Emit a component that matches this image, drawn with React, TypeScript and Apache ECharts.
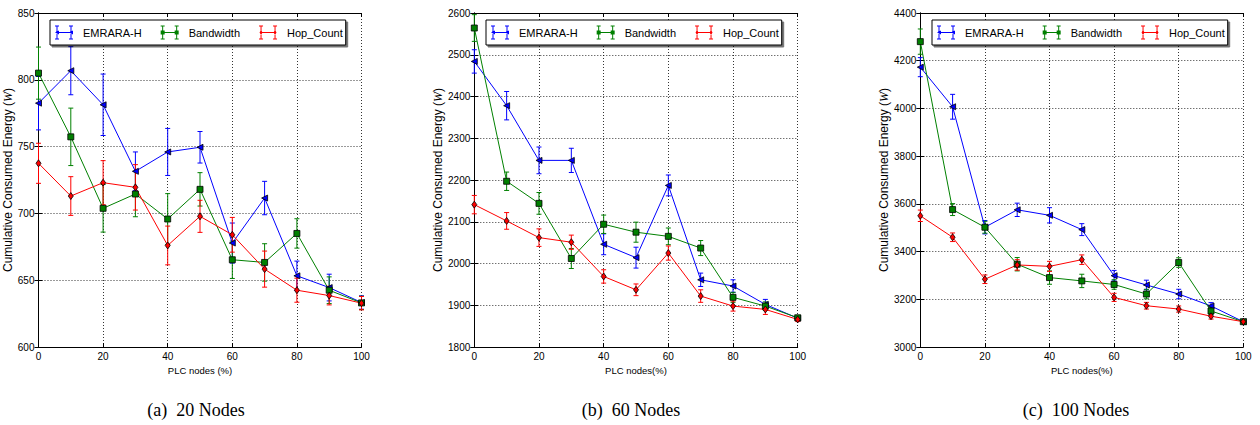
import { useEffect, useRef } from 'react';
import * as echarts from 'echarts';

const X = [0, 10, 20, 30, 40, 50, 60, 70, 80, 90, 100];
const NAMES = ['EMRARA-H', 'Bandwidth', 'Hop_Count'];

// (a) 20 Nodes
const A_EMRARA = [782.5, 806.8, 781.3, 731.5, 746, 749.5, 677.8, 711.5, 653.3, 644.5, 633.3];
const A_EMRARA_ERR = [20, 18, 23, 14.5, 17.6, 11.8, 15, 12.5, 11, 10, 5];
const A_BW = [805, 757.3, 703.8, 714.5, 695.8, 718, 665.3, 663.3, 685, 642.5, 633];
const A_BW_ERR = [19.5, 21.5, 17.8, 17, 19, 12.5, 14, 14, 11, 10, 5];
const A_HOP = [737.5, 713, 723, 719.5, 676, 697.8, 684, 658.3, 642.5, 638.5, 632.8];
const A_HOP_ERR = [15, 14.5, 16.5, 17, 14.5, 12, 13, 13.5, 9, 7, 5];

// (b) 60 Nodes
const B_EMRARA = [2484, 2378, 2247, 2247, 2046, 2014, 2187, 1961, 1946, 1902, 1869];
const B_EMRARA_ERR = [28, 34, 32, 29, 25, 25, 25, 16, 15, 12, 5];
const B_BW = [2564, 2197, 2144, 2012, 2094, 2075, 2065, 2037, 1919, 1898, 1870];
const B_BW_ERR = [32, 22, 26, 24, 22, 24, 20, 18, 12, 10, 5];
const B_HOP = [2141, 2102, 2062, 2051, 1969, 1937, 2025, 1922, 1898, 1890, 1866];
const B_HOP_ERR = [22, 20, 21, 17, 16, 14, 17, 15, 12, 12, 5];

// (c) 100 Nodes
const C_EMRARA = [4173, 4007, 3502, 3575, 3552, 3492, 3299, 3260, 3222, 3172, 3106];
const C_EMRARA_ERR = [40, 52, 28, 28, 32, 25, 22, 20, 20, 14, 8];
const C_BW = [4280, 3576, 3502, 3347, 3291, 3277, 3262, 3222, 3354, 3151, 3106];
const C_BW_ERR = [53, 25, 25, 28, 28, 28, 20, 20, 20, 15, 8];
const C_HOP = [3550, 3460, 3284, 3344, 3338, 3366, 3208, 3173, 3159, 3129, 3106];
const C_HOP_ERR = [24, 18, 18, 22, 21, 20, 17, 14, 13, 12, 8];

const Y_TICKS_A = { min: 600, max: 850, interval: 50 };
const Y_TICKS_B = { min: 1800, max: 2600, interval: 100 };
const Y_TICKS_C = { min: 3000, max: 4400, interval: 200 };

const CAPTIONS = ['(a)  20 Nodes', '(b)  60 Nodes', '(c)  100 Nodes'];
const X_NAMES = ['PLC nodes (%)', 'PLC nodes(%)', 'PLC nodes(%)'];
const Y_NAME = 'Cumulative Consumed Energy ({i|W})';

const COLORS = ['#0000ff', '#008000', '#ff0000'];
const FONT = '"Liberation Sans", Arial, sans-serif';

const SYMBOLS = ['path://M0,5L10,0L10,10Z', 'rect', 'diamond'];
const SYMBOL_SIZES: any[] = [6, 6, [5, 7]];

const IBEAMS =
  'M0,0H4V1H2.5V13H4V14H0V13H1.5V1H0Z M14,0H18V1H16.5V13H18V14H14V13H15.5V1H14Z M2,6.5H16V7.5H2Z ';
const LEGEND_ICONS = [
  'path://' + IBEAMS + 'M0,7L4,5V9Z M14,7L18,5V9Z',
  'path://' + IBEAMS + 'M0,5H4V9H0Z M14,5H18V9H14Z',
  'path://' + IBEAMS + 'M2,4.5L3.5,7L2,9.5L0.5,7Z M16,4.5L17.5,7L16,9.5L14.5,7Z',
];

const LAYOUT = [
  { left: 38.5, width: 323, legendLeft: 50, capX: 196, yGap: 21 },
  { left: 474.3, width: 323.4, legendLeft: 486, capX: 631, yGap: 26 },
  { left: 920.3, width: 323, legendLeft: 932, capX: 1076, yGap: 27 },
];

function buildOption() {
  const panelsData = [
    { vals: [A_EMRARA, A_BW, A_HOP], errs: [A_EMRARA_ERR, A_BW_ERR, A_HOP_ERR], y: Y_TICKS_A },
    { vals: [B_EMRARA, B_BW, B_HOP], errs: [B_EMRARA_ERR, B_BW_ERR, B_HOP_ERR], y: Y_TICKS_B },
    { vals: [C_EMRARA, C_BW, C_HOP], errs: [C_EMRARA_ERR, C_BW_ERR, C_HOP_ERR], y: Y_TICKS_C },
  ];
  const grid: any[] = [];
  const xAxis: any[] = [];
  const yAxis: any[] = [];
  const series: any[] = [];
  const legend: any[] = [];
  const graphic: any[] = [];

  const axisLine = { show: true, lineStyle: { color: '#000', width: 1 } };
  const axisTick = { show: true, inside: true, length: 4, lineStyle: { color: '#000', width: 1 } };
  const splitLine = { show: true, lineStyle: { color: '#000', width: 0.8, type: [1, 2] } };
  const axisLabel = {
    fontSize: 10, fontFamily: FONT, color: '#000', margin: 4,
    formatter: (v: number) => String(v),
  };

  panelsData.forEach((p, i) => {
    const L = LAYOUT[i];
    grid.push({ left: L.left, top: 13, width: L.width, height: 334, containLabel: false });
    xAxis.push({
      type: 'value', gridIndex: i, min: 0, max: 100, interval: 20, position: 'bottom',
      name: X_NAMES[i], nameLocation: 'middle', nameGap: 18,
      nameTextStyle: { fontSize: 9.5, fontFamily: FONT, color: '#000' },
      axisLine, axisTick, axisLabel, splitLine,
    });
    xAxis.push({
      type: 'value', gridIndex: i, min: 0, max: 100, interval: 20, position: 'top',
      axisLine, axisTick, axisLabel: { show: false }, splitLine: { show: false },
    });
    yAxis.push({
      type: 'value', gridIndex: i, min: p.y.min, max: p.y.max, interval: p.y.interval, position: 'left',
      name: Y_NAME, nameLocation: 'middle', nameGap: L.yGap, nameRotate: 90,
      nameTextStyle: {
        fontSize: 12, fontFamily: FONT, color: '#000',
        rich: { i: { fontSize: 12, fontStyle: 'italic', fontFamily: '"Liberation Serif", serif', color: '#000' } },
      },
      axisLine, axisTick, axisLabel, splitLine,
    });
    yAxis.push({
      type: 'value', gridIndex: i, min: p.y.min, max: p.y.max, interval: p.y.interval, position: 'right',
      axisLine, axisTick, axisLabel: { show: false }, splitLine: { show: false },
    });

    p.vals.forEach((vals, s) => {
      const color = COLORS[s];
      const errs = p.errs[s];
      series.push({
        type: 'custom',
        name: NAMES[s] + ' error',
        xAxisIndex: 2 * i, yAxisIndex: 2 * i,
        encode: { x: 0, y: [1, 2] },
        data: X.map((x, k) => [x, vals[k] - errs[k], vals[k] + errs[k]]),
        z: 2,
        renderItem: (params: any, api: any) => {
          const x = api.value(0);
          const top = api.coord([x, api.value(2)]);
          const bot = api.coord([x, api.value(1)]);
          const hw = 2.5;
          const st = { stroke: color, lineWidth: 1 };
          return {
            type: 'group',
            children: [
              { type: 'line', shape: { x1: top[0], y1: top[1], x2: bot[0], y2: bot[1] }, style: st },
              { type: 'line', shape: { x1: top[0] - hw, y1: top[1], x2: top[0] + hw, y2: top[1] }, style: st },
              { type: 'line', shape: { x1: bot[0] - hw, y1: bot[1], x2: bot[0] + hw, y2: bot[1] }, style: st },
            ],
          };
        },
      });
      series.push({
        type: 'line',
        name: NAMES[s],
        xAxisIndex: 2 * i, yAxisIndex: 2 * i,
        data: X.map((x, k) => [x, vals[k]]),
        symbol: SYMBOLS[s],
        symbolSize: SYMBOL_SIZES[s],
        showAllSymbol: true,
        lineStyle: { color, width: 1 },
        itemStyle: { color, borderColor: '#000', borderWidth: 0.8 },
        z: 3,
      });
    });

    legend.push({
      left: L.legendLeft, top: 20, orient: 'horizontal',
      data: NAMES.map((n, k) => ({ name: n, icon: LEGEND_ICONS[k] })),
      itemWidth: 18, itemHeight: 14, itemGap: 19,
      padding: [5.5, 3, 5.5, 5],
      borderColor: '#000', borderWidth: 1, backgroundColor: '#fff',
      shadowColor: 'rgba(0,0,0,0.55)', shadowOffsetX: 2, shadowOffsetY: 2, shadowBlur: 0,
      textStyle: { fontSize: 11, fontFamily: FONT, color: '#000', padding: [0, 0, 0, 5] },
      itemStyle: { borderWidth: 0 },
      selectedMode: false,
    });

    graphic.push({
      type: 'text', x: L.capX, y: 410,
      style: {
        text: CAPTIONS[i], font: '18px "Liberation Serif", "Times New Roman", serif',
        fill: '#000', align: 'center', verticalAlign: 'middle',
      },
    });
  });

  return { animation: false, backgroundColor: '#fff', grid, xAxis, yAxis, series, legend, graphic };
}

export default function App() {
  const ref = useRef<HTMLDivElement>(null);
  useEffect(() => {
    const chart = echarts.init(ref.current!, null, { renderer: 'svg' });
    chart.setOption(buildOption() as any);
    return () => chart.dispose();
  }, []);
  return (
    <div
      ref={ref}
      style={{ position: 'absolute', left: 0, top: 0, width: 1260, height: 425, background: '#fff' }}
    />
  );
}
